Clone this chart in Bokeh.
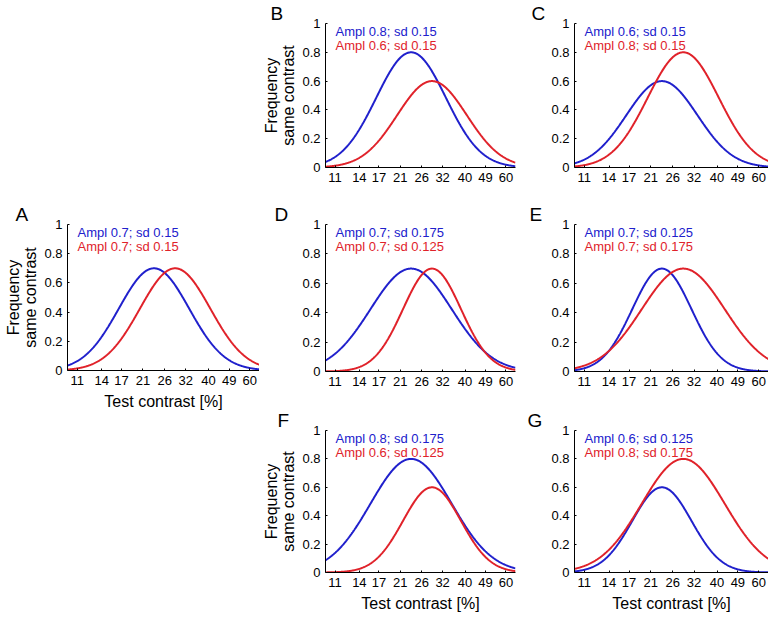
import numpy as np
from bokeh.plotting import figure
from bokeh.layouts import column, row
from bokeh.models import FixedTicker, NumeralTickFormatter, Label, Spacer, Range1d, Title
from bokeh.embed import file_html
from bokeh.resources import INLINE

# ---- data ----
panel_ids = ["A", "B", "C", "D", "E", "F", "G"]
blue_ampl = [0.7, 0.8, 0.6, 0.7, 0.7, 0.8, 0.6]
blue_sd = [0.15, 0.15, 0.15, 0.175, 0.125, 0.175, 0.125]
red_ampl = [0.7, 0.6, 0.8, 0.7, 0.7, 0.6, 0.8]
red_sd = [0.15, 0.15, 0.15, 0.125, 0.175, 0.125, 0.175]
blue_centre = 23.4   # test contrast [%] at blue peak
red_centre = 28.8    # test contrast [%] at red peak
x_ticks = [11, 14, 17, 21, 26, 32, 40, 49, 60]
y_ticks = [0, 0.2, 0.4, 0.6, 0.8, 1]
x_lo, x_hi = 10, 66

BLUE = "#2020cc"
RED = "#e0222a"
FONT = "Liberation Sans"

xs = np.geomspace(x_lo, x_hi, 400)


def gauss(ampl, sd, centre):
    return ampl * np.exp(-(np.log10(xs) - np.log10(centre)) ** 2 / (2 * sd ** 2))


def panel(pid, width, bl, br, height, bt, bb, letter_dx, xlabel, ylabel):
    i = panel_ids.index(pid)
    p = figure(width=width, height=height, x_axis_type="log",
               output_backend="svg", toolbar_location=None,
               x_range=Range1d(x_lo, x_hi), y_range=Range1d(0, 1),
               min_border_left=bl, min_border_right=br,
               min_border_top=bt, min_border_bottom=bb)
    p.outline_line_color = None
    p.grid.visible = False
    p.background_fill_color = "white"
    p.border_fill_color = "white"

    p.line(xs, gauss(blue_ampl[i], blue_sd[i], blue_centre), line_color=BLUE, line_width=2)
    p.line(xs, gauss(red_ampl[i], red_sd[i], red_centre), line_color=RED, line_width=2)

    for ax in (p.xaxis[0], p.yaxis[0]):
        ax.major_tick_in = 2
        ax.major_tick_out = 0
        ax.minor_tick_in = 0
        ax.minor_tick_out = 0
        ax.axis_line_color = "black"
        ax.axis_line_width = 1
        ax.major_tick_line_color = "black"
        ax.major_label_text_font = FONT
        ax.major_label_text_font_size = "13px"
        ax.major_label_text_color = "black"
        ax.axis_label_text_font = FONT
        ax.axis_label_text_font_size = "16px"
        ax.axis_label_text_font_style = "normal"
        ax.axis_label_text_color = "black"
        ax.axis_label_text_line_height = 1.05
    p.xaxis[0].ticker = FixedTicker(ticks=x_ticks, minor_ticks=[])
    p.xaxis[0].formatter = NumeralTickFormatter(format="0")
    p.yaxis[0].ticker = FixedTicker(ticks=y_ticks, minor_ticks=[])
    p.yaxis[0].formatter = NumeralTickFormatter(format="0.[0]")
    p.xaxis[0].major_label_standoff = 5
    p.yaxis[0].major_label_standoff = 5
    p.xaxis[0].axis_label_standoff = 5
    p.yaxis[0].axis_label_standoff = 2
    if xlabel:
        p.xaxis[0].axis_label = "Test contrast [%]"
    if ylabel:
        p.yaxis[0].axis_label = "Frequency\nsame contrast"

    p.add_layout(Label(x=x_lo, y=1, x_offset=10, y_offset=-8,
                       text=f"Ampl {blue_ampl[i]}; sd {blue_sd[i]}",
                       text_font=FONT, text_font_size="13px", text_color=BLUE,
                       text_baseline="alphabetic"))
    p.add_layout(Label(x=x_lo, y=1, x_offset=10, y_offset=-22,
                       text=f"Ampl {red_ampl[i]}; sd {red_sd[i]}",
                       text_font=FONT, text_font_size="13px", text_color=RED,
                       text_baseline="alphabetic"))
    p.add_layout(Title(text=pid, align="left", offset=letter_dx, standoff=0,
                       text_font=FONT, text_font_size="19px",
                       text_font_style="normal", text_color="black"), "above")
    return p


# columns: width, border left, border right
W1, BL1, BR1 = 259, 67, 0
W2, BL2, BR2 = 259, 62, 3
W3, BL3, BR3 = 250, 56, 0

col1 = column(Spacer(width=W1, height=200),
              panel("A", W1, BL1, BR1, 212, 24, 41, -52, True, True))
col2 = column(panel("B", W2, BL2, BR2, 200, 21, 33, -55, False, True),
              panel("D", W2, BL2, BR2, 207, 24, 36, -51, False, False),
              panel("F", W2, BL2, BR2, 210, 21, 45, -48, True, True))
col3 = column(panel("C", W3, BL3, BR3, 200, 21, 33, -43, False, False),
              panel("E", W3, BL3, BR3, 207, 24, 36, -45, False, False),
              panel("G", W3, BL3, BR3, 210, 21, 45, -47, True, False))

layout = row(col1, col2, col3)
open("out.html", "w").write(file_html(layout, INLINE))
